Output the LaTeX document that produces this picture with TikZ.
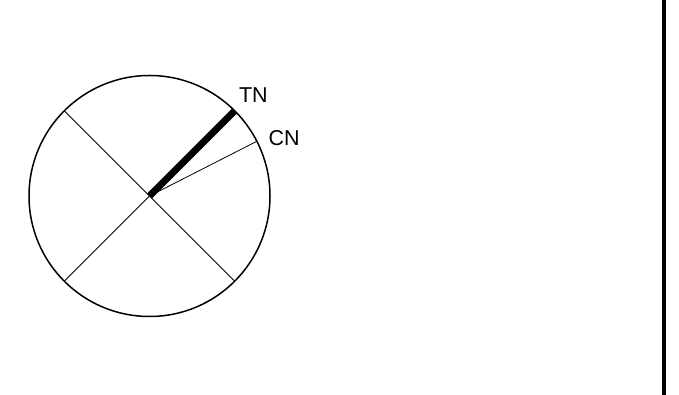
\documentclass[tikz,border=0pt]{standalone}
\usepackage{fontspec}
\setmainfont{Liberation Sans}
\usetikzlibrary{calc}

\begin{document}
\begin{tikzpicture}[x=1pt,y=1pt,font=\fontsize{21.5}{24}\selectfont,
  rim/.style={line width=1.5pt},
  axis/.style={line width=.8pt},
  northline/.style={line width=7pt},
  lbl/.style={inner sep=0pt}]
\useasboundingbox (0,0) rectangle (679,395);
\coordinate (ctr) at (149.5,199);
\draw[rim] (ctr) circle (120.5);
% cross lines
\coordinate (nw) at ($(ctr)+(135:120.5)$);
\coordinate (se) at ($(ctr)+(315:120.5)$);
\coordinate (sw) at ($(ctr)+(225:120.5)$);
\draw[axis] (nw) -- (se);
\draw[axis] (sw) -- (ctr);
% true north and compass north
\coordinate (tnend) at ($(ctr)+(45:120)$);
\coordinate (cnend) at ($(ctr)+(27:120)$);
\draw[northline] (ctr) -- (tnend);
\draw[axis] (ctr) -- (cnend);
\node[lbl] (tn) at (253.4,300) {TN};
\node[lbl] (cn) at (284.2,257) {CN};
% right border
\draw[line width=4pt] (663.5,0) -- (663.5,395);
\end{tikzpicture}
\end{document}
